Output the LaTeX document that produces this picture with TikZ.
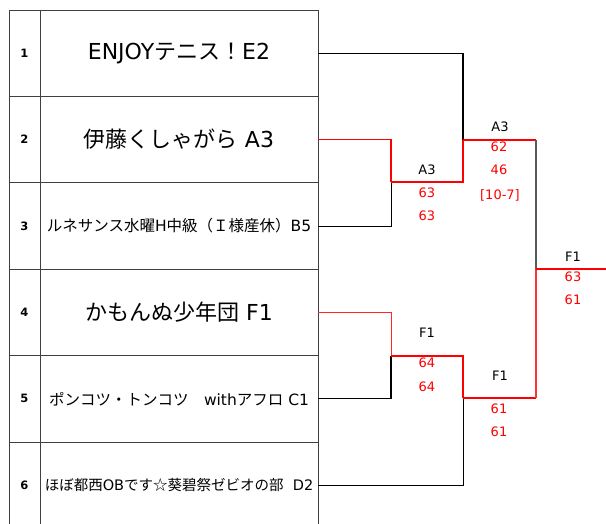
\documentclass[tikz,border=0pt]{standalone}
\usepackage{fontspec}
\setmainfont{DejaVu Sans}
\newfontfamily\jp{Noto Sans CJK JP}
\newcommand{\ja}[1]{{\jp #1}}
\tikzset{
	cell/.style={draw=black!75, line width=0.9pt, minimum height=86.4pt, inner sep=0pt},
	numcell/.style={cell, minimum width=31pt, font=\fontsize{11.5}{11.5}\selectfont\bfseries},
	namecell/.style={cell, minimum width=278pt},
	bigname/.style={font=\fontsize{22}{22}\selectfont},
	smallname/.style={font=\fontsize{15.5}{15.5}\selectfont},
	tinyname/.style={font=\fontsize{14.5}{14.5}\selectfont},
	win/.style={red, line width=1.6pt},
	lose/.style={black, line width=1.1pt},
	score/.style={red, font=\fontsize{13}{13}\selectfont},
	who/.style={black, font=\fontsize{13}{13}\selectfont}
}
\begin{document}
\begin{tikzpicture}[x=1pt, y=-1pt]
		\useasboundingbox (0,0) rectangle (606,524);
		% table of teams
		\foreach \i/\team/\fs in {
			1/{ENJOY\ja{テニス！}E2}/bigname,
			2/{\ja{伊藤くしゃがら} A3}/bigname,
			3/{\ja{ルネサンス水曜}H\ja{中級（Ｉ様産休）}B5}/smallname,
			4/{\ja{かもんぬ少年団} F1}/bigname,
			5/{\ja{ポンコツ・トンコツ　}with\ja{アフロ} C1}/smallname,
			6/{\ja{ほぼ都西}OB\ja{です☆葵碧祭ゼビオの部}\ \ D2}/tinyname}{
		\node[numcell] (n\i) at (24.5, {53.2+86.4*(\i-1)}) {\i};
		\node[namecell, \fs] (t\i) at (179, {53.2+86.4*(\i-1)}) {\team};
		}
		% bracket points
		\coordinate (m1) at (391,182);
		\coordinate (s1) at (463,140);
		\coordinate (m2) at (391,356);
		\coordinate (s2) at (463,398);
		\coordinate (f) at (536,269);
		\coordinate (champ) at (606,269);
		\draw[lose] (t1.east) -| (s1);
		\draw[lose, line width=0.8pt] (t3.east) -| (m1);
		\draw[lose] (t5.east) -| (m2);
		\draw[lose, line width=0.8pt] (t6.east) -| (s2);
		\draw[win] (t2.east) -| (m1);
		\draw[win] (m1) -| (s1);
		\draw[win] (s1) -- (s1 -| f);
		\draw[black!65, line width=1.6pt] (s1 -| f) -- (f);
		\draw[red!85, line width=1pt] (t4.east) -| (m2);
		\draw[win] (m2) -| (s2);
		\draw[win] (s2) -- (s2 -| f);
		\draw[red!80, line width=1.1pt] (s2 -| f) -- (f);
		\draw[win] (f) -- (champ);
		% winners and scores
		\node[who] (w1) at (427,170) {A3};
		\node[score] (r1a) at (427,193) {63};
		\node[score] (r1b) at (427,216) {63};
		\node[who] (w2) at (427,333) {F1};
		\node[score] (r2a) at (427,363) {64};
		\node[score] (r2b) at (427,387) {64};
		\node[who] (w3) at (500,127) {A3};
		\node[score] (r3a) at (499,147) {62};
		\node[score] (r3b) at (499,170) {46};
		\node[score] (r3c) at (500,195) {[10-7]};
		\node[who] (w4) at (500,376) {F1};
		\node[score] (r4a) at (499,409) {61};
		\node[score] (r4b) at (499,432) {61};
		\node[who] (w5) at (573,257) {F1};
		\node[score] (r5a) at (573,277) {63};
		\node[score] (r5b) at (573,300) {61};
		\end{tikzpicture}
\end{document}
